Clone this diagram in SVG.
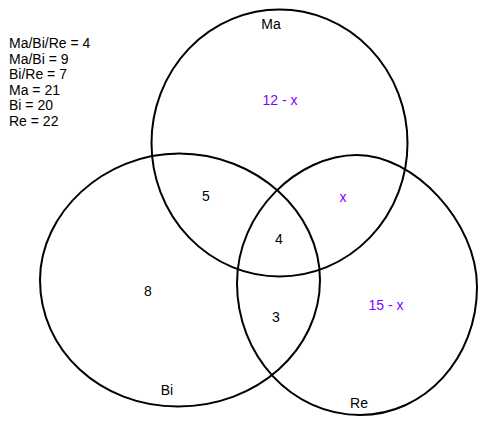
<svg xmlns="http://www.w3.org/2000/svg" width="488" height="428" viewBox="0 0 488 428">
<style>
.set{fill:none;stroke:#000;stroke-width:2}
text{font-family:"Liberation Sans",Arial,sans-serif;font-size:14px;fill:#000}
.v{fill:#8000ff}
.m{text-anchor:middle}
</style>
<rect width="488" height="428" fill="#fff"/>
<g id="legend">
<text x="9" y="48">Ma/Bi/Re = 4</text>
<text x="9" y="63.5">Ma/Bi = 9</text>
<text x="9" y="79">Bi/Re = 7</text>
<text x="9" y="94.5">Ma = 21</text>
<text x="9" y="110">Bi = 20</text>
<text x="9" y="125.5">Re = 22</text>
</g>
<g id="ma">
<ellipse class="set" cx="279.5" cy="143" rx="128" ry="133.5"/>
<text class="m" x="271" y="29">Ma</text>
</g>
<g id="bi">
<path class="set" d="M40,280 C40,213 104,153.5 179,153.5 C256,153.5 320,212 320,280 C320,350 257,406.5 178,406.5 C100,406.5 40,350 40,280 Z"/>
<text class="m" x="167" y="395">Bi</text>
</g>
<g id="re">
<path class="set" d="M357,155 C414,155 477,222 477,287 C477,358 425,415 360,415 C292,415 237,356 237,283 C237,212 298,155 357,155 Z"/>
<text class="m" x="359" y="408">Re</text>
</g>
<g id="regions">
<text class="m v" x="280" y="105">12 - x</text>
<text class="m v" x="343" y="202">x</text>
<text class="m v" x="386" y="310">15 - x</text>
<text class="m" x="206" y="201">5</text>
<text class="m" x="279" y="244">4</text>
<text class="m" x="148" y="296">8</text>
<text class="m" x="276" y="322">3</text>
</g>
</svg>
